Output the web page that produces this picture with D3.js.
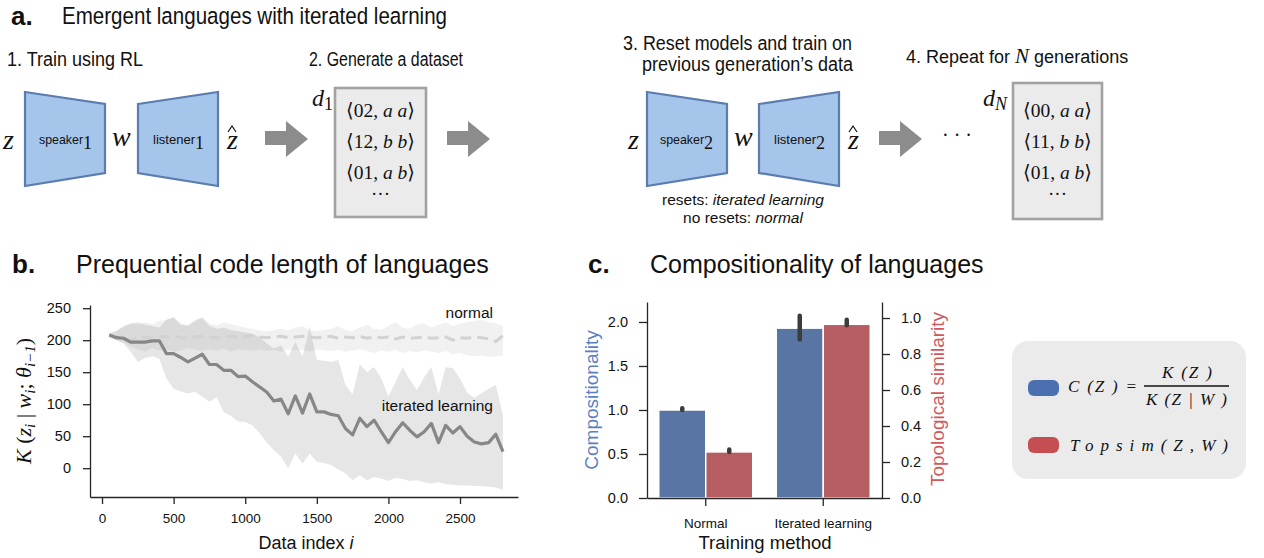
<!DOCTYPE html>
<html>
<head>
<meta charset="utf-8">
<script src="https://cdn.jsdelivr.net/npm/d3@7"></script>
<style>
  body { margin: 0; background: #fff; }
  svg { display: block; }
  text { font-family: "Liberation Sans", Arial, Helvetica, sans-serif; fill: #111; }
  .serif { font-family: "Liberation Serif", "DejaVu Serif", serif; }
  .axis path, .axis line { stroke: #262626; stroke-width: 1.3; }
</style>
</head>
<body>
<svg id="fig" width="1264" height="558"></svg>
<script>
// ---- panel b: prequential code length ----
const dataIndex = [50,100,150,200,250,300,350,400,450,500,550,600,650,700,750,800,850,900,950,1000,
  1050,1100,1150,1200,1250,1300,1350,1400,1450,1500,1550,1600,1650,1700,1750,1800,1850,1900,1950,2000,
  2050,2100,2150,2200,2250,2300,2350,2400,2450,2500,2550,2600,2650,2700,2750,2800]
const iterMean = [208,204,203,197,197,197,199,199,179,179,173,166,172,178,162,162,153,153,143,144,
  135,127,119,105,108,85,113,86,116,88,88,84,82,62,52,78,65,75,57,40,
  57,71,59,49,57,70,40,67,55,65,50,41,38,40,53,26]
const iterUpper = [210,214,222,226,228,224,222,220,232,236,224,222,230,235,222,218,220,216,214,212,
  210,205,195,187,192,174,197,174,221,169,168,166,169,130,115,163,150,158,140,112,
  135,158,138,122,142,158,115,158,156,140,118,110,117,124,130,83]
const iterLower = [206,200,195,182,166,172,175,171,140,124,120,117,119,112,104,111,88,82,73,72,
  67,55,40,28,18,0,23,7,23,10,8,5,-2,-8,-19,-11,-19,-14,-16,-20,
  -15,-17,-20,-19,-22,-24,-22,-25,-26,-27,-27,-28,-28,-29,-30,-34]
const normMean = [208,206,202,200,203,205,203,206,205,207,204,203,205,206,205,204,205,206,204,206,
  207,205,204,205,206,204,205,206,205,204,205,206,203,205,204,206,203,205,204,205,
  202,205,203,204,205,203,204,205,200,204,203,205,204,202,198,207]
const normUpper = [212,215,220,226,224,228,225,230,232,236,226,224,232,236,226,223,228,225,222,220,
  218,215,214,216,218,215,220,222,215,214,216,218,222,216,214,220,224,218,216,222,
  228,220,218,224,226,220,224,228,222,226,228,230,232,228,226,222]
const normLower = [204,200,196,190,186,182,188,184,186,182,184,188,185,183,186,184,187,182,186,185,
  184,186,183,185,182,186,184,185,182,186,184,183,185,182,184,186,183,180,184,182,
  185,180,183,181,184,182,180,183,178,180,176,175,176,174,175,176]
const xTicksB = [0, 500, 1000, 1500, 2000, 2500]
const yTicksB = [0, 50, 100, 150, 200, 250]

// ---- panel c: compositionality ----
const methods = ["Normal", "Iterated learning"]
const compMean = [1.0, 1.93]
const compLo = [1.0, 1.80]
const compHi = [1.02, 2.07]
const topsimMean = [0.256, 0.965]
const topsimLo = [0.255, 0.96]
const topsimHi = [0.27, 0.99]
const yTicksComp = [0, 0.5, 1.0, 1.5, 2.0]
const yTicksTopsim = [0, 0.2, 0.4, 0.6, 0.8, 1.0]

const svg = d3.select("#fig")

// ================= panel a =================
const a = svg.append("g")
a.append("text").attr("x", 11).attr("y", 25).attr("font-size", 26).attr("font-weight", "bold").text("a.")
a.append("text").attr("x", 62).attr("y", 24).attr("font-size", 24.5)
  .attr("textLength", 385).attr("lengthAdjust", "spacingAndGlyphs")
  .text("Emergent languages with iterated learning")

let steps = [
  {x: 7, y: 66, t: "1. Train using RL", w: 136},
  {x: 309, y: 66, t: "2. Generate a dataset", w: 154},
  {x: 623, y: 50, t: "3. Reset models and train on", w: 229},
  {x: 642, y: 71, t: "previous generation\u2019s data", w: 211}
]
steps.forEach(s => {
  a.append("text").attr("x", s.x).attr("y", s.y).attr("font-size", 19.5)
    .attr("textLength", s.w).attr("lengthAdjust", "spacingAndGlyphs").text(s.t)
})
let step4 = a.append("text").attr("x", 906).attr("y", 63).attr("font-size", 18)
step4.append("tspan").text("4. Repeat for ")
step4.append("tspan").attr("class", "serif").attr("font-style", "italic").attr("font-size", 21).text("N")
step4.append("tspan").text(" generations")

// encoder / decoder blocks
let block = (x0, x1, wideLeft) => {
  let tall = [92, 186], short = [104, 173]
  let L = wideLeft ? tall : short, R = wideLeft ? short : tall
  a.append("path")
    .attr("d", d3.line()([[x0, L[0]], [x1, R[0]], [x1, R[1]], [x0, L[1]]]) + "Z")
    .attr("fill", "#a6c5ea").attr("stroke", "#5a7cb0").attr("stroke-width", 2.2)
}
let agent = (x, name, sub, w) => {
  let t = a.append("text").attr("x", x).attr("y", 144).attr("font-size", 13)
  t.append("tspan").attr("textLength", w).attr("lengthAdjust", "spacingAndGlyphs").text(name)
  t.append("tspan").attr("class", "serif").attr("font-size", 18).attr("dy", 5).text(sub)
}
let mathVar = (x, y, s, size) => {
  a.append("text").attr("class", "serif").attr("font-style", "italic")
    .attr("x", x).attr("y", y).attr("font-size", size || 28).text(s)
}
let hat = (x) => {
  a.append("path").attr("d", `M${x},132 L${x + 4},126 L${x + 8},132`)
    .attr("fill", "none").attr("stroke", "#111").attr("stroke-width", 1.2)
}
let arrow = (x0) => {
  a.append("path")
    .attr("d", `M${x0},131 H${x0 + 21} V121 L${x0 + 43},139 L${x0 + 21},157 V145 H${x0} Z`)
    .attr("fill", "#8c8c8c")
}
let dataset = (x, y, w, h, rows, labX, labSub, subItalic) => {
  a.append("rect").attr("x", x).attr("y", y).attr("width", w).attr("height", h)
    .attr("fill", "#ebebeb").attr("stroke", "#a2a2a2").attr("stroke-width", 2.6)
  rows.forEach((r, i) => {
    let t = a.append("text").attr("class", "serif").attr("x", x + w / 2).attr("y", 117 + i * 31)
      .attr("font-size", 19.5).attr("text-anchor", "middle")
    t.append("tspan").text("\u27e8" + r[0] + ", ")
    t.append("tspan").attr("font-style", "italic").text(r[1])
    t.append("tspan").text("\u27e9")
  })
  a.append("text").attr("class", "serif").attr("x", x + w / 2).attr("y", 200)
    .attr("font-size", 19).attr("text-anchor", "middle").text("\u00b7\u00b7\u00b7")
  let d = a.append("text").attr("class", "serif").attr("font-style", "italic")
    .attr("x", labX).attr("y", 106).attr("font-size", 24)
  d.append("tspan").text("d")
  d.append("tspan").attr("font-style", subItalic ? "italic" : "normal").attr("font-size", 18).attr("dy", 4).text(labSub)
}

block(25, 105, true)
block(138, 218, false)
mathVar(3, 149, "z")
agent(39, "speaker", "1", 44)
mathVar(112, 146, "w")
agent(153, "listener", "1", 42)
mathVar(227, 149, "z"); hat(228)
arrow(265)
dataset(335, 88, 91, 129, [["02", "a a"], ["12", "b b"], ["01", "a b"]], 312, "1", false)
arrow(447)

block(647, 727, true)
block(759, 839, false)
mathVar(628, 149, "z")
agent(660, "speaker", "2", 44)
mathVar(734, 146, "w")
agent(774, "listener", "2", 42)
mathVar(848, 149, "z"); hat(849)
arrow(879)
a.append("text").attr("x", 957).attr("y", 142).attr("font-size", 20).attr("text-anchor", "middle")
  .attr("class", "serif").text("\u00b7  \u00b7  \u00b7")
dataset(1013, 83, 89, 136, [["00", "a a"], ["11", "b b"], ["01", "a b"]], 983, "N", true)

let rs = a.append("text").attr("x", 743).attr("y", 205).attr("font-size", 15.5).attr("text-anchor", "middle")
rs.append("tspan").text("resets: ")
rs.append("tspan").attr("font-style", "italic").text("iterated learning")
let nr = a.append("text").attr("x", 743).attr("y", 223).attr("font-size", 15.5).attr("text-anchor", "middle")
nr.append("tspan").text("no resets: ")
nr.append("tspan").attr("font-style", "italic").text("normal")

// ================= panel b =================
const b = svg.append("g")
b.append("text").attr("x", 12).attr("y", 273).attr("font-size", 26).attr("font-weight", "bold").text("b.")
b.append("text").attr("x", 76).attr("y", 273).attr("font-size", 25).text("Prequential code length of languages")

const xB = d3.scaleLinear().domain([-84, 2905]).range([90, 518])
const yB = d3.scaleLinear().domain([-45, 255]).range([497, 305])

let band = (lo, hi) => d3.area().x((d, i) => xB(dataIndex[i])).y0((d, i) => yB(lo[i])).y1((d, i) => yB(hi[i]))
let line = (vals) => d3.line().x((d, i) => xB(dataIndex[i])).y((d, i) => yB(vals[i]))

b.append("path").attr("d", band(normLower, normUpper)(dataIndex)).attr("fill", "#b4b4b4").attr("fill-opacity", 0.18)
b.append("path").attr("d", band(iterLower, iterUpper)(dataIndex)).attr("fill", "#808080").attr("fill-opacity", 0.2)
b.append("path").attr("d", line(normMean)(dataIndex)).attr("fill", "none")
  .attr("stroke", "#d2d2d2").attr("stroke-width", 3).attr("stroke-dasharray", "11,6")
b.append("path").attr("d", line(iterMean)(dataIndex)).attr("fill", "none")
  .attr("stroke", "#878787").attr("stroke-width", 3.2).attr("stroke-linejoin", "round")

b.append("g").attr("class", "axis").attr("transform", "translate(0,497)")
  .call(d3.axisBottom(xB).tickValues(xTicksB).tickFormat(d3.format("d")).tickSize(7).tickSizeOuter(0).tickPadding(9))
  .call(g => g.selectAll("text").attr("font-size", 13.5).attr("fill", "#222").attr("font-family", null))
b.append("g").attr("class", "axis").attr("transform", "translate(90,0)")
  .call(d3.axisLeft(yB).tickValues(yTicksB).tickSize(7).tickSizeOuter(0).tickPadding(12))
  .call(g => g.selectAll("text").attr("font-size", 14.5).attr("fill", "#222").attr("font-family", null))

let xl = b.append("text").attr("x", 306).attr("y", 549).attr("font-size", 18).attr("text-anchor", "middle")
xl.append("tspan").text("Data index ")
xl.append("tspan").attr("font-style", "italic").text("i")

let yl = b.append("text").attr("class", "serif").attr("font-size", 22).attr("font-style", "italic")
  .attr("text-anchor", "middle").attr("transform", "translate(31,401) rotate(-90)")
yl.append("tspan").text("K")
yl.append("tspan").attr("font-style", "normal").text(" (")
yl.append("tspan").text("z")
yl.append("tspan").attr("font-size", 15).attr("dy", 4).text("i")
yl.append("tspan").attr("font-style", "normal").attr("dy", -4).text(" | ")
yl.append("tspan").text("w")
yl.append("tspan").attr("font-size", 15).attr("dy", 4).text("i")
yl.append("tspan").attr("font-style", "normal").attr("dy", -4).text("; ")
yl.append("tspan").text("\u03b8")
yl.append("tspan").attr("font-size", 15).attr("dy", 4).text("i\u22121")
yl.append("tspan").attr("font-style", "normal").attr("dy", -4).text(")")

b.append("text").attr("x", 493).attr("y", 318).attr("font-size", 15.5).attr("text-anchor", "end").attr("fill", "#222").text("normal")
b.append("text").attr("x", 493).attr("y", 411).attr("font-size", 15.5).attr("text-anchor", "end").attr("fill", "#222").text("iterated learning")

// ================= panel c =================
const c = svg.append("g")
c.append("text").attr("x", 588).attr("y", 273).attr("font-size", 26).attr("font-weight", "bold").text("c.")
c.append("text").attr("x", 650).attr("y", 273).attr("font-size", 25).text("Compositionality of languages")

const xC = d3.scaleBand().domain(methods).range([647, 882])
const yComp = d3.scaleLinear().domain([0, 2.227]).range([498, 302])
const yTop = d3.scaleLinear().domain([0, 1.089]).range([498, 302])
const bw = xC.bandwidth() * 0.4
const mid = m => xC(m) + xC.bandwidth() / 2

c.selectAll(".barComp").data(methods).join("rect")
  .attr("x", m => mid(m) - bw).attr("width", bw)
  .attr("y", (m, i) => yComp(compMean[i])).attr("height", (m, i) => yComp(0) - yComp(compMean[i]))
  .attr("fill", "#5975a4").attr("stroke", "#fff").attr("stroke-width", 1.5)
c.selectAll(".barTop").data(methods).join("rect")
  .attr("x", m => mid(m)).attr("width", bw)
  .attr("y", (m, i) => yTop(topsimMean[i])).attr("height", (m, i) => yTop(0) - yTop(topsimMean[i]))
  .attr("fill", "#b55d60").attr("stroke", "#fff").attr("stroke-width", 1.5)

c.selectAll(".errComp").data(methods).join("line")
  .attr("x1", m => mid(m) - bw / 2).attr("x2", m => mid(m) - bw / 2)
  .attr("y1", (m, i) => yComp(compLo[i])).attr("y2", (m, i) => yComp(compHi[i]))
  .attr("stroke", "#3c3c3c").attr("stroke-width", 4.5).attr("stroke-linecap", "round")
c.selectAll(".errTop").data(methods).join("line")
  .attr("x1", m => mid(m) + bw / 2).attr("x2", m => mid(m) + bw / 2)
  .attr("y1", (m, i) => yTop(topsimLo[i])).attr("y2", (m, i) => yTop(topsimHi[i]))
  .attr("stroke", "#3c3c3c").attr("stroke-width", 4.5).attr("stroke-linecap", "round")

c.append("g").attr("class", "axis").attr("transform", "translate(0,498)")
  .call(d3.axisBottom(xC).tickSize(8).tickSizeOuter(0).tickPadding(12))
  .call(g => g.selectAll("text").attr("font-size", 13.5).attr("fill", "#222").attr("font-family", null))
c.append("g").attr("class", "axis").attr("transform", "translate(647,0)")
  .call(d3.axisLeft(yComp).tickValues(yTicksComp).tickFormat(d3.format(".1f")).tickSize(8).tickSizeOuter(0).tickPadding(11))
  .call(g => g.selectAll("text").attr("font-size", 14.5).attr("fill", "#333").attr("font-family", null))
c.append("g").attr("class", "axis").attr("transform", "translate(882,0)")
  .call(d3.axisRight(yTop).tickValues(yTicksTopsim).tickFormat(d3.format(".1f")).tickSize(8).tickSizeOuter(0).tickPadding(11))
  .call(g => g.selectAll("text").attr("font-size", 14.5).attr("fill", "#333").attr("font-family", null))

c.append("text").attr("x", 765).attr("y", 549).attr("font-size", 18.5).attr("text-anchor", "middle").attr("fill", "#222").text("Training method")
c.append("text").attr("transform", "translate(598,400) rotate(-90)").attr("font-size", 19)
  .attr("text-anchor", "middle").style("fill", "#5a7fc3").text("Compositionality")
c.append("text").attr("transform", "translate(944,399) rotate(-90)").attr("font-size", 19)
  .attr("text-anchor", "middle").style("fill", "#d0585d").text("Topological similarity")

// legend
const lg = svg.append("g")
lg.append("rect").attr("x", 1012).attr("y", 341).attr("width", 234).attr("height", 138).attr("rx", 16)
  .attr("fill", "#ebebeb")
lg.append("rect").attr("x", 1028).attr("y", 380).attr("width", 31).attr("height", 16).attr("rx", 6).attr("fill", "#4a70b0")
lg.append("rect").attr("x", 1028).attr("y", 437).attr("width", 31).attr("height", 16).attr("rx", 6).attr("fill", "#c44e52")
let lt = (x, y, s, w) => lg.append("text").attr("class", "serif").attr("font-style", "italic")
  .attr("x", x).attr("y", y).attr("font-size", 17).attr("textLength", w).attr("lengthAdjust", "spacing").text(s)
lt(1068, 392, "C (Z ) =", 69)
lt(1162, 378, "K (Z )", 50)
lg.append("line").attr("x1", 1144).attr("x2", 1229).attr("y1", 386).attr("y2", 386).attr("stroke", "#111").attr("stroke-width", 1.5)
lt(1146, 405, "K (Z | W )", 81)
lt(1070, 451, "Topsim(Z,W)", 158)
</script>
</body>
</html>
